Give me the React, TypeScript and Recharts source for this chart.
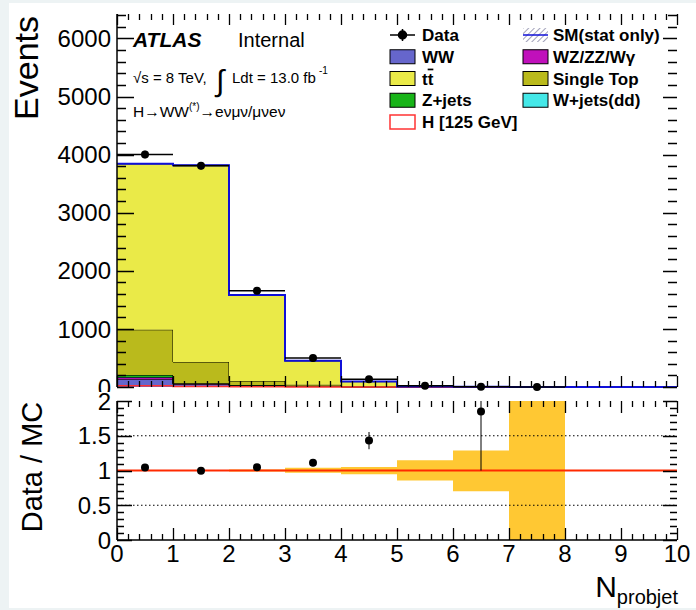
import React from 'react';
import {
  ComposedChart,
  Area,
  Line,
  Scatter,
  ErrorBar,
  XAxis,
  YAxis,
  ReferenceLine,
  Legend,
} from 'recharts';

const FONT = '"Liberation Sans", Arial, Helvetica, sans-serif';

// lower edge of each unit-width bin of N_probjet
const BIN_LO = [0, 1, 2, 3, 4, 5, 6, 7, 8, 9];

// stacked backgrounds, events per bin (bottom to top)
const WW = [132, 46, 25, 8, 3, 0.5, 0, 0, 0, 0];
const WZ = [30, 10, 5, 2, 0.5, 0, 0, 0, 0, 0];
const WJETS = [8, 3, 2, 1, 0.5, 0, 0, 0, 0, 0];
const ZJETS = [35, 6, 3, 1, 1, 0, 0, 0, 0, 0];
const STOP = [780, 365, 68, 25, 10, 1.5, 0.4, 0, 0, 0];
const TTBAR = [2856, 3388, 1479, 413, 78, 7, 2.3, 0.3, 0, 0];
const HIGGS = [20, 8, 3, 1, 0.3, 0, 0, 0, 0, 0];

// observed data
const DATA = [4002, 3806, 1657, 500, 133, 20, 5, 1, null, null];
const DATA_ERR = [63, 62, 41, 22, 11.5, 4.5, 2.2, 1, null, null];

// ratio panel (values beyond the 0-2 frame are cut at the frame)
const RATIO = [1.042, 0.997, 1.047, 1.11, 1.43, null, 1.85, null, null, null];
const RATIO_ERR_LO = [0.017, 0.016, 0.027, 0.05, 0.124, null, 0.85, null, null, null];
const RATIO_ERR_HI = [0.017, 0.016, 0.027, 0.05, 0.124, null, 0.15, null, null, null];
const BAND_LO = [0.992, 0.992, 0.985, 0.967, 0.945, 0.857, 0.7, 0, null, null];
const BAND_HI = [1.008, 1.008, 1.015, 1.038, 1.05, 1.148, 1.286, 2, null, null];

const X_MAX = 10;
const Y_MAX = 6420;
const R_MAX = 2;
const X_TICKS = Array.from({ length: 51 }, (_, i) => +(i * 0.2).toFixed(1));
const Y_TICKS = Array.from({ length: 33 }, (_, i) => i * 200);
const R_TICKS = Array.from({ length: 21 }, (_, i) => +(i * 0.1).toFixed(1));

const COLORS = {
  ww: '#6666cc',
  wz: '#c010bb',
  wjets: '#44e8e8',
  zjets: '#18b418',
  stop: '#baba1c',
  ttbar: '#eaea48',
  higgs: '#ff3333',
  total: '#1010d8',
  band: '#ffc833',
};

// pad frames in page pixels (same numbers feed the chart margins below)
const MAIN_FRAME = { left: 117, right: 677, top: 14, bottom: 387 };
const RATIO_FRAME = { left: 117, right: 677, top: 401, bottom: 540 };
const RATIO_TOP = 392;

const stackRows = BIN_LO.flatMap((lo, i) =>
  [lo, lo + 1].map((x) => ({
    x,
    ww: WW[i],
    wz: WZ[i],
    wjets: WJETS[i],
    zjets: ZJETS[i],
    stop: STOP[i],
    ttbar: TTBAR[i],
    higgs: HIGGS[i],
    total: WW[i] + WZ[i] + WJETS[i] + ZJETS[i] + STOP[i] + TTBAR[i],
  })),
);

const dataPoints = BIN_LO.map((lo, i) => ({ x: lo + 0.5, y: DATA[i], ex: 0.5, ey: DATA_ERR[i] })).filter(
  (p) => p.y !== null,
);

const bandRows = BIN_LO.flatMap((lo, i) =>
  [lo, lo + 1].map((x) => ({
    x,
    band: BAND_LO[i] === null ? null : [BAND_LO[i], BAND_HI[i]],
  })),
);

const ratioPoints = BIN_LO.map((lo, i) => ({
  x: lo + 0.5,
  y: RATIO[i],
  ey: [RATIO_ERR_LO[i], RATIO_ERR_HI[i]],
})).filter((p) => p.y !== null);

const LEGEND_LEFT = [
  { kind: 'data', label: 'Data' },
  { kind: 'box', label: 'WW', color: COLORS.ww },
  { kind: 'box', label: 'tt', color: COLORS.ttbar },
  { kind: 'box', label: 'Z+jets', color: COLORS.zjets },
  { kind: 'higgs', label: 'H [125 GeV]' },
];
const LEGEND_RIGHT = [
  { kind: 'sm', label: 'SM(stat only)' },
  { kind: 'box', label: 'WZ/ZZ/W\u03b3', color: COLORS.wz },
  { kind: 'box', label: 'Single Top', color: COLORS.stop },
  { kind: 'box', label: 'W+jets(dd)', color: COLORS.wjets },
];

const near = (v: number, step: number) => Math.abs(v / step - Math.round(v / step)) < 1e-4;
const fmt = (v: number) => String(Math.round(v * 100) / 100);
const crisp = (v: number) => Math.round(v) + 0.5;

// axis tick labels (majors only)
function LeftLabel({ x = 0, y = 0, payload, step }: any) {
  const v = Number(payload.value);
  if (!near(v, step)) return <g />;
  return (
    <text x={Number(x) - 6} y={Number(y)} dy="0.36em" textAnchor="end" fontSize={24} fontFamily={FONT} fill="#000">
      {fmt(v)}
    </text>
  );
}

function BottomLabel({ x = 0, y = 0, payload }: any) {
  const v = Number(payload.value);
  if (!near(v, 1)) return <g />;
  return (
    <text x={Number(x)} y={Number(y) + 22} textAnchor="middle" fontSize={24} fontFamily={FONT} fill="#000">
      {fmt(v)}
    </text>
  );
}

type Frame = { left: number; right: number; top: number; bottom: number };

// ROOT style inward ticks on all four sides of a pad
function FrameTicks({
  f,
  yMax,
  yTicks,
  yStep,
  xLen,
  yLen,
}: {
  f: Frame;
  yMax: number;
  yTicks: number[];
  yStep: number;
  xLen: [number, number];
  yLen: [number, number, number];
}) {
  const px = (v: number) => f.left + (v / X_MAX) * (f.right - f.left);
  const py = (v: number) => f.bottom - (v / yMax) * (f.bottom - f.top);
  const vertical = X_TICKS.map((v) => {
    const l = near(v, 1) ? xLen[0] : xLen[1];
    const x = crisp(px(v));
    return `M${x},${f.bottom}V${f.bottom - l}M${x},${f.top}V${f.top + l}`;
  }).join('');
  const horizontal = yTicks
    .map((v) => {
      const big = near(v, yStep);
      const y = crisp(py(v));
      return `M${f.left},${y}H${f.left + (big ? yLen[0] : yLen[1])}M${f.right},${y}H${f.right - (big ? yLen[2] : yLen[1])}`;
    })
    .join('');
  return (
    <g fill="none" stroke="#000" strokeWidth={1.3}>
      <path d={vertical} />
      <path d={horizontal} />
    </g>
  );
}

function Dot(props: { cx?: number; cy?: number }) {
  return <circle cx={props.cx} cy={props.cy} r={4} fill="#000" />;
}

function LegendMarker({ kind, color, x, y }: { kind: string; color?: string; x: number; y: number }) {
  if (kind === 'data')
    return (
      <g stroke="#000" strokeWidth={1.5}>
        <line x1={x} y1={y} x2={x + 25} y2={y} />
        <line x1={x + 12.5} y1={y - 6} x2={x + 12.5} y2={y + 6} />
        <circle cx={x + 12.5} cy={y} r={4} fill="#000" />
      </g>
    );
  if (kind === 'sm')
    return (
      <g>
        <rect x={x} y={y - 7} width={25} height={14} fill="url(#smHatch)" />
        <line x1={x} y1={y} x2={x + 25} y2={y} stroke={COLORS.total} strokeWidth={1.5} />
      </g>
    );
  if (kind === 'higgs')
    return <rect x={x} y={y - 7} width={25} height={14} fill="#fff" stroke={COLORS.higgs} strokeWidth={1.5} />;
  return <rect x={x} y={y - 7} width={25} height={14} fill={color} stroke="#000" strokeWidth={1} />;
}

function LegendLabel({ label, x, y }: { label: string; x: number; y: number }) {
  return (
    <text x={x} y={y} dy="0.36em" fontSize={17} fontWeight="bold" fontFamily={FONT} fill="#000">
      {label === 'tt' ? (
        <>
          t<tspan textDecoration="overline">t</tspan>
        </>
      ) : (
        label
      )}
    </text>
  );
}

function AtlasLegend() {
  const rowY = (i: number) => 11 + i * 21.75;
  return (
    <svg width={300} height={115} style={{ display: 'block', overflow: 'visible' }}>
      <defs>
        <pattern id="smHatch" width={4} height={4} patternUnits="userSpaceOnUse" patternTransform="rotate(45)">
          <line x1={0} y1={0} x2={0} y2={4} stroke="#8a8aa8" strokeWidth={1.6} />
        </pattern>
      </defs>
      {LEGEND_LEFT.map((e, i) => (
        <g key={e.label}>
          <LegendMarker kind={e.kind} color={e.color} x={5} y={rowY(i)} />
          <LegendLabel label={e.label} x={37} y={rowY(i)} />
        </g>
      ))}
      {LEGEND_RIGHT.map((e, i) => (
        <g key={e.label}>
          <LegendMarker kind={e.kind} color={e.color} x={138} y={rowY(i)} />
          <LegendLabel label={e.label} x={168} y={rowY(i)} />
        </g>
      ))}
    </svg>
  );
}

function Annotations() {
  return (
    <svg
      width={696}
      height={610}
      style={{ position: 'absolute', left: 0, top: 0, pointerEvents: 'none' }}
      fontFamily={FONT}
      fill="#000"
    >
      <FrameTicks f={MAIN_FRAME} yMax={Y_MAX} yTicks={Y_TICKS} yStep={1000} xLen={[11, 6]} yLen={[17, 9, 14]} />
      <FrameTicks f={RATIO_FRAME} yMax={R_MAX} yTicks={R_TICKS} yStep={0.5} xLen={[12, 6]} yLen={[15, 7, 14]} />
      <text x={133} y={47} fontSize={21} fontWeight="bold" fontStyle="italic">
        ATLAS
      </text>
      <text x={238} y={47} fontSize={20}>
        Internal
      </text>
      <text x={133} y={83} fontSize={15}>
        {'\u221as = 8 TeV,'}
      </text>
      <text x={216} y={91} fontSize={30}>
        {'\u222b'}
      </text>
      <text x={232} y={83} fontSize={15}>
        Ldt = 13.0 fb
      </text>
      <text x={319} y={74} fontSize={10}>
        -1
      </text>
      <text x={133} y={117} fontSize={15.5}>
        {'H\u2192WW'}
        <tspan fontSize={10} dy={-7}>
          (*)
        </tspan>
        <tspan dy={7}>{'\u2192e\u03bd\u03bc\u03bd/\u03bc\u03bde\u03bd'}</tspan>
      </text>
      <text transform="rotate(-90, 38, 16)" x={38} y={16} textAnchor="end" fontSize={34}>
        Events
      </text>
      <text transform="rotate(-90, 42, 467)" x={42} y={467} textAnchor="middle" fontSize={29}>
        Data / MC
      </text>
      <text x={678} y={597} textAnchor="end">
        <tspan fontSize={30}>N</tspan>
        <tspan fontSize={20} dy={7}>
          probjet
        </tspan>
      </text>
    </svg>
  );
}

const axisLine = { stroke: '#000', strokeWidth: 1.5 };

const frame = {
  type: 'number' as const,
  interval: 0 as const,
  tickSize: 0,
  tickMargin: 0,
  axisLine,
  tickLine: false,
};

function MainPanel() {
  const f = MAIN_FRAME;
  return (
    <ComposedChart
      width={696}
      height={RATIO_TOP}
      data={stackRows}
      margin={{ top: f.top, right: 696 - f.right, bottom: RATIO_TOP - f.bottom, left: 0 }}
    >
      <XAxis {...frame} dataKey="x" domain={[0, X_MAX]} ticks={X_TICKS} height={0} tick={false} />
      <XAxis {...frame} xAxisId="t" orientation="top" domain={[0, X_MAX]} height={0} tick={false} />
      <YAxis
        {...frame}
        domain={[0, Y_MAX]}
        ticks={Y_TICKS}
        width={f.left}
        tick={(p: any) => <LeftLabel {...p} step={1000} />}
      />
      <YAxis {...frame} yAxisId="r" orientation="right" domain={[0, Y_MAX]} width={0} tick={false} />
      {(['ww', 'wz', 'wjets', 'zjets', 'stop', 'ttbar'] as const).map((k) => (
        <Area
          key={k}
          dataKey={k}
          stackId="bkg"
          type="linear"
          fill={COLORS[k]}
          fillOpacity={1}
          stroke="#000"
          strokeWidth={1}
          dot={false}
          activeDot={false}
          isAnimationActive={false}
        />
      ))}
      <Line
        dataKey="higgs"
        type="linear"
        stroke={COLORS.higgs}
        strokeWidth={1.5}
        dot={false}
        activeDot={false}
        isAnimationActive={false}
      />
      <Line
        dataKey="total"
        type="linear"
        stroke={COLORS.total}
        strokeWidth={2}
        dot={false}
        activeDot={false}
        isAnimationActive={false}
      />
      <Scatter data={dataPoints} dataKey="y" shape={<Dot />} isAnimationActive={false}>
        <ErrorBar dataKey="ex" direction="x" width={0} stroke="#000" strokeWidth={1.5} />
        <ErrorBar dataKey="ey" direction="y" width={0} stroke="#000" strokeWidth={1.5} />
      </Scatter>
      <Legend
        layout="horizontal"
        verticalAlign="middle"
        align="center"
        content={() => <AtlasLegend />}
        wrapperStyle={{ left: 385, top: 24, width: 300, height: 115 }}
      />
    </ComposedChart>
  );
}

function RatioPanel() {
  const f = RATIO_FRAME;
  return (
    <ComposedChart
      width={696}
      height={610 - RATIO_TOP}
      data={bandRows}
      margin={{ top: f.top - RATIO_TOP, right: 696 - f.right, bottom: 0, left: 0 }}
    >
      <XAxis
        {...frame}
        dataKey="x"
        domain={[0, X_MAX]}
        ticks={X_TICKS}
        height={610 - f.bottom}
        tick={(p: any) => <BottomLabel {...p} />}
      />
      <XAxis {...frame} xAxisId="t" orientation="top" domain={[0, X_MAX]} height={0} tick={false} />
      <YAxis
        {...frame}
        domain={[0, R_MAX]}
        ticks={R_TICKS}
        width={f.left}
        tick={(p: any) => <LeftLabel {...p} step={0.5} />}
      />
      <YAxis {...frame} yAxisId="r" orientation="right" domain={[0, R_MAX]} width={0} tick={false} />
      <Area
        dataKey="band"
        type="linear"
        fill={COLORS.band}
        fillOpacity={1}
        stroke="none"
        dot={false}
        activeDot={false}
        isAnimationActive={false}
      />
      <ReferenceLine y={1.5} stroke="#000" strokeDasharray="1.5 2.5" />
      <ReferenceLine y={0.5} stroke="#000" strokeDasharray="1.5 2.5" />
      <ReferenceLine y={1} stroke="#ff2a00" strokeWidth={2} />
      <Scatter data={ratioPoints} dataKey="y" shape={<Dot />} isAnimationActive={false}>
        <ErrorBar dataKey="ey" direction="y" width={0} stroke="#000" strokeWidth={1} />
      </Scatter>
    </ComposedChart>
  );
}

export default function App() {
  return (
    <div
      style={{
        position: 'absolute',
        left: 0,
        top: 0,
        width: 696,
        height: 610,
        background: '#edf3f4',
        fontFamily: FONT,
        overflow: 'hidden',
      }}
    >
      <div style={{ position: 'absolute', left: 9, top: 3, right: 0, bottom: 2, background: '#fff' }} />
      <div style={{ position: 'absolute', left: 0, top: 0 }}>
        <MainPanel />
      </div>
      <div style={{ position: 'absolute', left: 0, top: RATIO_TOP }}>
        <RatioPanel />
      </div>
      <Annotations />
    </div>
  );
}
